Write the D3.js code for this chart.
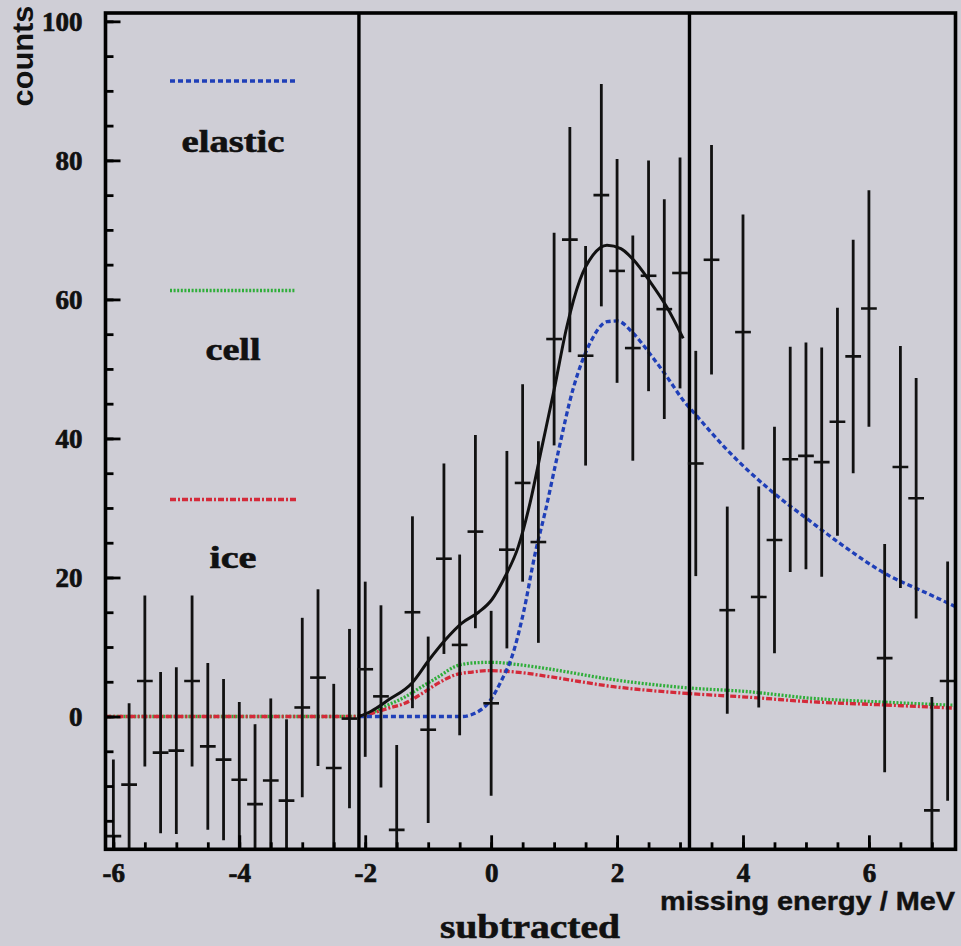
<!DOCTYPE html>
<html>
<head>
<meta charset="utf-8">
<script src="https://cdn.jsdelivr.net/npm/d3@7"></script>
<style>
  html, body { margin: 0; padding: 0; background: #cfced6; }
  svg { display: block; }
</style>
</head>
<body>
<svg id="chart" width="961" height="946"></svg>
<script>
// Bin centres of the missing-energy histogram (MeV)
const energy = [
  -6.00, -5.75, -5.50, -5.25, -5.00, -4.75, -4.50, -4.25, -4.00, -3.75,
  -3.50, -3.25, -3.00, -2.75, -2.50, -2.25, -2.00, -1.75, -1.50, -1.25,
  -1.00, -0.75, -0.50, -0.25,  0.00,  0.25,  0.50,  0.75,  1.00,  1.25,
   1.50,  1.75,  2.00,  2.25,  2.50,  2.75,  3.00,  3.25,  3.50,  3.75,
   4.00,  4.25,  4.50,  4.75,  5.00,  5.25,  5.50,  5.75,  6.00,  6.25,
   6.50,  6.75,  7.00,  7.25
];
// Background-subtracted counts per bin
const counts = [
  -17.2,  -9.8,   5.1,  -5.2,  -4.9,   5.1,  -4.3,  -6.2,  -9.1, -12.6,
   -9.2, -12.1,   1.3,   5.6,  -7.4,  -0.3,   6.8,   2.9, -16.3,  15.0,
   -1.9,  22.7,  10.3,  26.6,   1.9,  24.0,  33.6,  25.1,  54.3,  68.6,
   51.9,  75.0,  64.1,  53.0,  63.4,  58.6,  63.8,  36.4,  65.7,  15.3,
   55.3,  17.2,  25.4,  37.0,  37.5,  36.6,  42.4,  51.8,  58.7,   8.4,
   35.9,  31.4, -13.5,   5.1
];
// Statistical uncertainty per bin
const errors = [
  11.0, 11.7, 12.3, 11.6, 12.0, 12.3, 12.0, 11.6, 11.2, 11.5,
  11.8, 11.7, 12.9, 12.7, 12.1, 12.9, 12.6, 13.1, 12.2, 13.8,
  13.4, 13.7, 13.0, 13.9, 13.3, 14.2, 14.2, 14.5, 15.3, 16.2,
  15.8, 16.0, 16.1, 16.2, 16.6, 15.8, 16.6, 16.2, 16.5, 14.9,
  16.9, 15.9, 16.3, 16.2, 16.3, 16.5, 16.4, 16.8, 17.0, 16.4,
  17.4, 17.3, 16.3, 17.2
];

// Fit components: [energy, counts]
const elasticCurve = [
  [-2.1, 0], [-1.0, 0], [-0.47, 0], [-0.25, 0.5], [-0.04, 2.0], [0.17, 5.3],
  [0.33, 8.6], [0.51, 14.8], [0.70, 23.5], [0.86, 29.5], [1.04, 37.0],
  [1.31, 47.4], [1.57, 53.7], [1.84, 56.8], [2.0, 56.9], [2.26, 55.1],
  [2.52, 52.2], [2.79, 48.9], [3.05, 45.5], [3.27, 43.2], [3.69, 38.9],
  [4.48, 32.2], [5.01, 28.5], [5.54, 24.9], [6.33, 20.2], [6.86, 18.0],
  [7.375, 15.8]
];
const cellCurve = [
  [-6.125, 0], [-2.1, 0], [-2.0, 0.2], [-1.63, 1.7], [-1.37, 2.8], [-1.1, 4.3],
  [-0.84, 5.7], [-0.57, 7.2], [-0.3, 7.7], [0.0, 7.8], [0.49, 7.4],
  [0.88, 6.9], [1.94, 5.3], [3.15, 4.1], [4.05, 3.6], [5.12, 2.6],
  [6.16, 2.1], [7.375, 1.6]
];
const iceCurve = [
  [-6.125, 0], [-2.1, 0], [-2.0, 0.2], [-1.63, 1.2], [-1.37, 1.9], [-1.1, 3.3],
  [-0.84, 4.8], [-0.57, 6.0], [-0.3, 6.4], [-0.04, 6.6], [0.49, 6.3],
  [0.88, 5.8], [1.94, 4.3], [3.15, 3.3], [4.05, 2.8], [5.12, 2.1],
  [6.16, 1.7], [7.375, 1.2]
];
const totalCurve = [
  [-2.1, 0], [-1.9, 0.8], [-1.63, 2.4], [-1.26, 4.8], [-0.99, 8.1],
  [-0.73, 11.0], [-0.47, 13.4], [-0.2, 15.0], [0.01, 16.8], [0.22, 20.1],
  [0.43, 24.4], [0.62, 30.8], [0.8, 38.5], [1.0, 47.0], [1.2, 56.0],
  [1.41, 62.8], [1.62, 66.4], [1.84, 67.8], [2.06, 67.3], [2.26, 65.7],
  [2.52, 62.6], [2.79, 58.9], [3.05, 54.4]
];

// Axis ticks and cut positions
const xMajorTicks = [-6, -4, -2, 0, 2, 4, 6];
const xMinorTicks = [-6, -5.5, -5, -4.5, -4, -3.5, -3, -2.5, -2, -1.5, -1, -0.5, 0,
  0.5, 1, 1.5, 2, 2.5, 3, 3.5, 4, 4.5, 5, 5.5, 6, 6.5, 7];
const yMajorTicks = [0, 20, 40, 60, 80, 100];
const yMinorTicks = [-15, -10, -5, 0, 5, 10, 15, 20, 25, 30, 35, 40, 45, 50, 55,
  60, 65, 70, 75, 80, 85, 90, 95, 100];
const cutLines = [-2.1, 3.15];

const legendItems = [
  { name: "elastic", cls: "elastic" },
  { name: "cell", cls: "cell" },
  { name: "ice", cls: "ice" }
];

const styles = {
  elastic: { color: "#1f3fb8", dash: "5,3", width: 3.3 },
  cell:    { color: "#2fae3a", dash: "2,1.6", width: 3.3 },
  ice:     { color: "#d42a3a", dash: "6,2,2,2", width: 3.3 },
  total:   { color: "#111111", dash: null, width: 3 }
};

const svg = d3.select("#chart");
const W = 961, H = 946;
const plot = { left: 105.5, right: 955.5, top: 13, bottom: 849.3 };

svg.append("rect").attr("width", W).attr("height", H).attr("fill", "#cfced6");

const x = d3.scaleLinear().domain([-6.125, 7.375]).range([plot.left, plot.right]);
const y = d3.scaleLinear().domain([-19.1, 101.2]).range([plot.bottom, plot.top]);

svg.append("clipPath").attr("id", "plotClip")
  .append("rect")
  .attr("x", plot.left).attr("y", plot.top)
  .attr("width", plot.right - plot.left).attr("height", plot.bottom - plot.top);

const inner = svg.append("g").attr("clip-path", "url(#plotClip)");

const line = d3.line().x(d => x(d[0])).y(d => y(d[1])).curve(d3.curveMonotoneX);

function drawCurve(data, st) {
  const p = inner.append("path")
    .attr("d", line(data))
    .attr("fill", "none")
    .attr("stroke", st.color)
    .attr("stroke-width", st.width)
    .attr("stroke-linejoin", "round");
  if (st.dash) p.attr("stroke-dasharray", st.dash);
}

drawCurve(cellCurve, styles.cell);
drawCurve(iceCurve, styles.ice);
drawCurve(elasticCurve, styles.elastic);
drawCurve(totalCurve, styles.total);

// Cut lines
inner.selectAll("line.cut").data(cutLines).enter().append("line")
  .attr("class", "cut")
  .attr("x1", d => x(d)).attr("x2", d => x(d))
  .attr("y1", plot.top).attr("y2", plot.bottom)
  .attr("stroke", "#000").attr("stroke-width", 3.4);

// Error bars with bin-width caps
const pts = energy.map((e, i) => ({ e, c: counts[i], s: errors[i] }));
const bars = inner.append("g").attr("stroke", "#111");
bars.selectAll("line.err").data(pts).enter().append("line")
  .attr("class", "err")
  .attr("x1", d => x(d.e)).attr("x2", d => x(d.e))
  .attr("y1", d => y(d.c - d.s)).attr("y2", d => y(d.c + d.s))
  .attr("stroke-width", 2.8);
bars.selectAll("line.cap").data(pts).enter().append("line")
  .attr("class", "cap")
  .attr("x1", d => x(d.e - 0.125)).attr("x2", d => x(d.e + 0.125))
  .attr("y1", d => y(d.c)).attr("y2", d => y(d.c))
  .attr("stroke-width", 2.6);

// Axes
const fmt = d => (d < 0 ? "-" + Math.abs(d) : String(d));
const serif = "'Liberation Serif', 'DejaVu Serif', serif";
const sans = "'Liberation Sans', Arial, sans-serif";

const yMinor = svg.append("g").attr("transform", `translate(${plot.left},0)`)
  .call(d3.axisLeft(y).tickValues(yMinorTicks).tickSize(-8).tickFormat(""));
const yMajor = svg.append("g").attr("transform", `translate(${plot.left},0)`)
  .call(d3.axisLeft(y).tickValues(yMajorTicks).tickSize(-15).tickPadding(23).tickFormat(fmt));
const xMinor = svg.append("g").attr("transform", `translate(0,${plot.bottom})`)
  .call(d3.axisBottom(x).tickValues(xMinorTicks).tickSize(-7).tickFormat(""));
const xMajor = svg.append("g").attr("transform", `translate(0,${plot.bottom})`)
  .call(d3.axisBottom(x).tickValues(xMajorTicks).tickSize(-14).tickFormat(fmt));

[yMinor, yMajor, xMinor, xMajor].forEach(g => {
  g.select(".domain").remove();
  g.selectAll(".tick line").attr("stroke", "#000").attr("stroke-width", 2.8);
  g.selectAll("text").attr("fill", "#111").attr("stroke", "#111").attr("stroke-width", 0.7)
    .attr("font-family", serif).attr("font-weight", "bold").attr("font-size", 27);
});
yMajor.selectAll("text").attr("dy", "0.34em");
xMajor.selectAll("text").attr("y", 33).attr("dy", 0);

// Frame
svg.append("rect")
  .attr("x", plot.left).attr("y", plot.top)
  .attr("width", plot.right - plot.left).attr("height", plot.bottom - plot.top)
  .attr("fill", "none").attr("stroke", "#000").attr("stroke-width", 3.6);

// Legend
const legendRows = [
  { item: legendItems[0], lineY: 81, textY: 152, len: 103 },
  { item: legendItems[1], lineY: 290.5, textY: 360, len: 55 },
  { item: legendItems[2], lineY: 499.5, textY: 568, len: 47 }
];
legendRows.forEach(r => {
  const st = styles[r.item.cls];
  svg.append("line")
    .attr("x1", 170).attr("x2", 296)
    .attr("y1", r.lineY).attr("y2", r.lineY)
    .attr("stroke", st.color).attr("stroke-width", st.width)
    .attr("stroke-dasharray", st.dash);
  svg.append("text")
    .attr("x", 233).attr("y", r.textY)
    .attr("text-anchor", "middle")
    .attr("font-family", serif).attr("font-weight", "bold").attr("font-size", 31)
    .attr("fill", "#111").attr("stroke", "#111").attr("stroke-width", 0.6)
    .attr("textLength", r.len).attr("lengthAdjust", "spacingAndGlyphs")
    .text(r.item.name);
});

// Axis titles
svg.append("text")
  .attr("transform", "translate(33,56) rotate(-90)")
  .attr("text-anchor", "middle")
  .attr("font-family", sans).attr("font-weight", "bold").attr("font-size", 29)
  .attr("fill", "#111")
  .attr("textLength", 101).attr("lengthAdjust", "spacingAndGlyphs")
  .text("counts");

svg.append("text")
  .attr("x", 955).attr("y", 910)
  .attr("text-anchor", "end")
  .attr("font-family", sans).attr("font-weight", "bold").attr("font-size", 25)
  .attr("fill", "#111").attr("stroke", "#111").attr("stroke-width", 0.4)
  .attr("textLength", 295).attr("lengthAdjust", "spacingAndGlyphs")
  .text("missing energy / MeV");

svg.append("text")
  .attr("x", 530).attr("y", 938)
  .attr("text-anchor", "middle")
  .attr("font-family", serif).attr("font-weight", "bold").attr("font-size", 33)
  .attr("fill", "#111").attr("stroke", "#111").attr("stroke-width", 0.6)
  .attr("textLength", 180).attr("lengthAdjust", "spacingAndGlyphs")
  .text("subtracted");
</script>
</body>
</html>
